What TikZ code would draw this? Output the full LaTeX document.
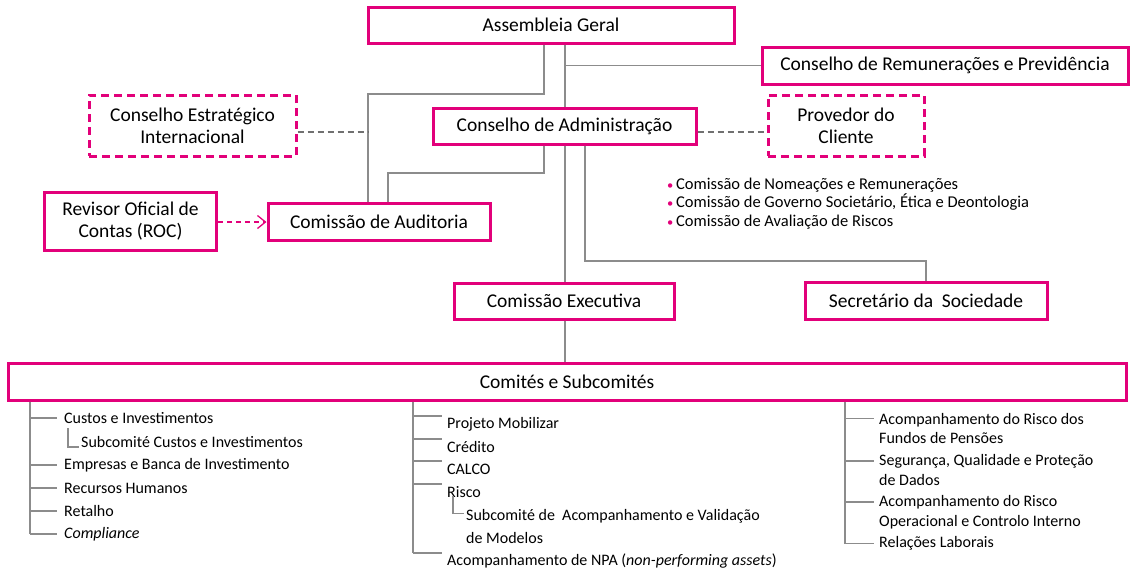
\documentclass[tikz,border=0pt]{standalone}
\usepackage{fontspec}
\setmainfont{Carlito}
\usetikzlibrary{arrows.meta,calc}
\definecolor{pk}{HTML}{E2007A}
\definecolor{ln}{HTML}{8C8C8C}
\definecolor{dl}{HTML}{707070}
\newcommand{\pkbul}{\textcolor{pk}{\fontsize{12.5}{12.5}\selectfont•}\,}
\begin{document}
\begin{tikzpicture}[x=1pt,y=-1pt,
  box/.style={draw=pk, line width=3pt, inner sep=0pt, align=center, font=\fontsize{19.5}{22}\selectfont},
  dbox/.style={box, dash pattern=on 8pt off 5pt},
  conn/.style={draw=ln, line width=1.6pt},
  dconn/.style={draw=dl, line width=1.5pt, dash pattern=on 6pt off 4pt},
  arr/.style={draw=pk, line width=1.3pt, dash pattern=on 5pt off 4pt, -{Straight Barb[length=8pt,width=13pt,line width=1.3pt]}},
  item/.style={inner sep=0pt, anchor=west, align=left, font=\fontsize{16}{23}\selectfont},
  item2/.style={item, font=\fontsize{16}{19.5}\selectfont},
  tline/.style={draw=ln, line width=1.2pt}
]
\useasboundingbox (0,0) rectangle (1132,571);

% boxes
\node[box, minimum width=366, minimum height=36] (ag) at (551,25) {Assembleia Geral};
\node[box, minimum width=366, minimum height=37] (crp) at (945,65.5) {Conselho de Remunerações e Previdência};
\node[dbox, minimum width=207, minimum height=61] (cei) at (192.5,125.5) {Conselho Estratégico\\Internacional};
\node[box, minimum width=263, minimum height=36] (cda) at (564.5,126) {Conselho de Administração};
\node[dbox, minimum width=156, minimum height=61] (pc) at (846,125.5) {Provedor do\\Cliente};
\node[box, minimum width=172, minimum height=58] (roc) at (130.5,221.5) {Revisor Oficial de\\Contas (ROC)};
\node[box, minimum width=222, minimum height=37] (aud) at (379,222) {Comissão de Auditoria};
\node[box, minimum width=220, minimum height=36] (ce) at (564,301) {Comissão Executiva};
\node[box, minimum width=242, minimum height=37] (sec) at (926,300.5) {Secretário da\ \ Sociedade};
\node[box, minimum width=1118, minimum height=37] (cs) at (567,381.5) {Comités e Subcomités};

% bullet list
\node[inner sep=0pt, anchor=west, align=left, font=\fontsize{16.5}{18.5}\selectfont] (bl) at (667,203.5)
  {\pkbul Comissão de Nomeações e Remunerações\\
   \pkbul Comissão de Governo Societário, Ética e Deontologia\\
   \pkbul Comissão de Avaliação de Riscos};

% helper coordinates
\coordinate (xa) at (368,94);
\coordinate (xb) at (544,94);
\coordinate (xc) at (544,173);
\coordinate (xd) at (388,173);
\coordinate (xe) at (565,66);
\coordinate (xg) at (585,261);
\coordinate (d1) at (368,132);
\coordinate (d2) at (0,132);

% connectors
\draw[conn] (ag.south -| xb) -- (xb) -- (xa) -- (aud.north -| xa);
\draw[conn] (cda.south -| xc) -- (xc) -- (xd) -- (aud.north -| xd);
\draw[conn] (ag.south -| xe) -- (cda.north -| xe);
\draw[conn] (crp.west -| xe) -- (crp.west);
\draw[conn] (cda.south -| xe) -- (ce.north -| xe);
\draw[conn] (cda.south -| xg) -- (xg) -- (xg -| sec.north) -- (sec.north);
\draw[conn] (ce.south -| xe) -- (cs.north -| xe);
\draw[dconn] (cei.east |- d1) -- (d1);
\draw[dconn] (cda.east |- d2) -- (pc.west |- d2);
\draw[arr] (roc.east |- aud.west) -- (aud.west);

% left list
\node[item] (l1) at (64,418) {Custos e Investimentos};
\node[item] (l1s) at (81,442) {Subcomité Custos e Investimentos};
\node[item] (l2) at (64,465) {Empresas e Banca de Investimento};
\node[item] (l3) at (64,488) {Recursos Humanos};
\node[item] (l4) at (64,511) {Retalho};
\node[item] (l5) at (64,534) {\textit{Compliance}};
\coordinate (lv) at (30,0);
\draw[tline] (cs.south -| lv) -- (l5.west -| lv);
\foreach \n in {l1,l2,l3,l4,l5}{
  \draw[tline] (\n.west -| lv) -- ($(\n.west)+(-7,0)$);
}
\coordinate (ls) at (68,428);
\draw[tline] (ls) |- ($(l1s.west)+(-2,5)$);

% middle list
\node[item] (m1) at (447,424) {Projeto Mobilizar};
\node[item] (m2) at (447,447) {Crédito};
\node[item] (m3) at (447,469) {CALCO};
\node[item] (m4) at (447,492) {Risco};
\node[item] (m4s) at (466,526.5) {Subcomité de\ \ Acompanhamento e Validação\\de Modelos};
\node[item] (m5) at (447,561) {Acompanhamento de NPA (\textit{non-performing assets})};
\coordinate (mv) at (413,0);
\coordinate (mb5) at ($(m5.west)+(-5,-8)$);
\draw[tline] (cs.south -| mv) -- (mb5 -| mv);
\foreach \n in {m1,m2,m3,m4,m5}{
  \draw[tline] ($(\n.west -| mv)+(0,-8)$) -- ($(\n.west)+(-5,-8)$);
}
\coordinate (ms) at (453,496);
\draw[tline] (ms) |- ($(m4s.west)+(-2,-13)$);

% right list
\node[item2] (r1) at (879,428.5) {Acompanhamento do Risco dos\\Fundos de Pensões};
\node[item2] (r2) at (879,470) {Segurança, Qualidade e Proteção\\de Dados};
\node[item2] (r3) at (879,512) {Acompanhamento do Risco\\Operacional e Controlo Interno};
\node[item2] (r4) at (879,543.5) {Relações Laborais};
\coordinate (rv) at (845,0);
\draw[tline] (cs.south -| rv) -- (r4.west -| rv);
\foreach \n/\o in {r1/-10,r2/-9,r3/-10,r4/0}{
  \draw[tline] ($(\n.west -| rv)+(0,\o)$) -- ($(\n.west)+(-5,\o)$);
}
\end{tikzpicture}
\end{document}
